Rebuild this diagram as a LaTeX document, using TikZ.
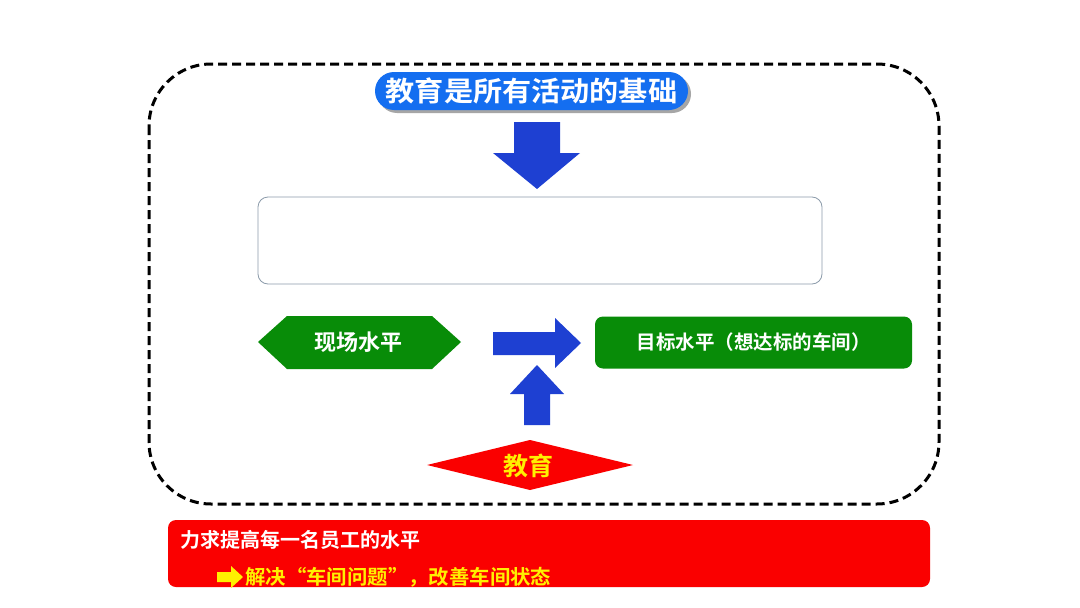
\documentclass[tikz,border=0pt]{standalone}
\usepackage{fontspec}
\usepackage{graphicx}
\newfontfamily\cjk{Noto Sans CJK SC}[BoldFont={* Bold}]
\usetikzlibrary{shadows}
\definecolor{pillblue}{RGB}{20,110,240}
\definecolor{arrblue}{RGB}{30,64,210}
\definecolor{grn}{RGB}{8,140,8}
\definecolor{rd}{RGB}{250,0,0}
\definecolor{yl}{RGB}{255,240,0}
\definecolor{boxline}{RGB}{140,155,170}
\tikzset{
  txt/.style={font=\cjk\bfseries, inner sep=0pt},
  blockarrow/.style={fill=arrblue, draw=none},
}
\begin{document}
\begin{tikzpicture}[x=1pt,y=-1pt]
\useasboundingbox (0,0) rectangle (1080,608);
\fill[white] (0,0) rectangle (1080,608);
% dashed frame
\draw[line width=3pt, dash pattern=on 9pt off 5pt, rounded corners=62pt] (149,64) rectangle (939,504);
% title pill
\node[txt, fill=pillblue, text=white, minimum width=313pt, minimum height=38pt, rounded corners=19pt,
  drop shadow={shadow xshift=3pt, shadow yshift=-3pt, fill=gray!70, opacity=1}, font=\cjk\bfseries\fontsize{27.5}{30}\selectfont]
  (title) at (531.5,91) {\scalebox{1.06}[1]{教育是所有活动的基础}};
% down arrow
\fill[blockarrow] (514,122) -- (560,122) -- (560,153) -- (580,153) -- (537,189) -- (493,153) -- (514,153) -- cycle;
% empty box
\node[draw=boxline, line width=0.8pt, rounded corners=10pt, minimum width=564pt, minimum height=87pt] (box) at (540,240.5) {};
% hexagon
\fill[grn] (258,342) -- (287,316) -- (432,316) -- (461,342) -- (432,369) -- (287,369) -- cycle;
\node[txt, text=white, font=\cjk\bfseries\fontsize{22}{24}\selectfont] (cur) at (358,342) {现场水平};
% right arrow
\fill[blockarrow] (493,332) -- (555,332) -- (555,318) -- (581,343) -- (555,368) -- (555,355) -- (493,355) -- cycle;
% target
\node[txt, fill=grn, text=white, rounded corners=8pt, minimum width=317pt, minimum height=52pt,
  font=\cjk\bfseries\fontsize{19.5}{22}\selectfont] (goal) at (753.5,342.5) {目标水平（想达标的车间）};
% up arrow
\fill[blockarrow] (524,425) -- (550,425) -- (550,394) -- (564,394) -- (537,365) -- (510,394) -- (524,394) -- cycle;
% diamond
\fill[rd] (427,465) -- (530,440) -- (633,465) -- (530,490) -- cycle;
\node[txt, text=yl, font=\cjk\bfseries\fontsize{25}{28}\selectfont] (edu) at (528,466) {教育};
% red bar
\node[fill=rd, rounded corners=8pt, minimum width=762pt, minimum height=67pt, inner sep=0pt] (bar) at (549,553.5) {};
\node[txt, text=white, anchor=west, font=\cjk\bfseries\fontsize{20}{22}\selectfont] (l1) at (180,540) {力求提高每一名员工的水平};
\fill[yl] (217,572) -- (231,572) -- (231,566) -- (243,577) -- (231,588) -- (231,582) -- (217,582) -- cycle;
\node[txt, text=yl, anchor=west, font=\cjk\bfseries\fontsize{20}{22}\selectfont] (l2) at (245,577) {\scalebox{1.02}[1]{解决“车间问题”，改善车间状态}};
\end{tikzpicture}
\end{document}
